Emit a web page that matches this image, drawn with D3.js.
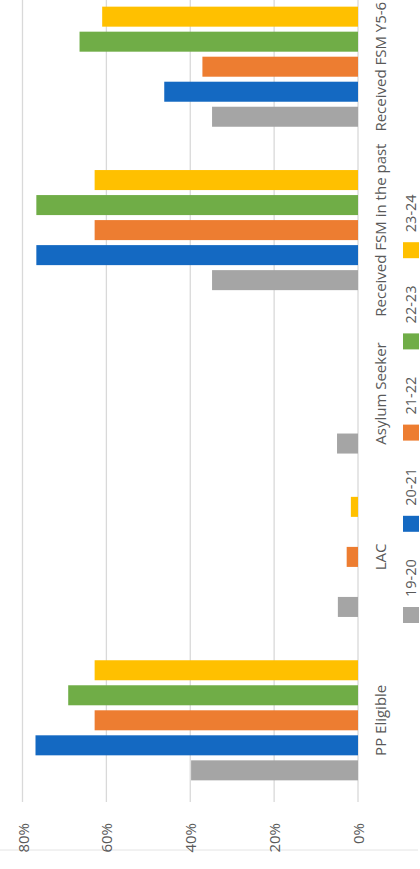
<!DOCTYPE html>
<html>
<head>
    <meta charset="utf-8">
    <title>rotated clustered bars</title>
    <script src="https://cdn.jsdelivr.net/npm/d3@7"></script>
    <style>
        body { margin: 0; background: #fff; }
        text { font-family: "Open Sans", "Noto Sans", sans-serif; fill: #595959; }
    </style>
</head>
<body>
    <svg width="420" height="869" id="mainsvg"></svg>
    <script>
        // data
        const categories = ['PP Eligible', 'LAC', 'Asylum Seeker', 'Received FSM in the past', 'Received FSM Y5-6'];
        const years = ['19-20', '20-21', '21-22', '22-23', '23-24'];
        const colors = ['#a5a5a5', '#1469c2', '#ed7d31', '#70ad47', '#ffc000'];
        const v1920 = [0.398, 0.048, 0.050, 0.348, 0.348];
        const v2021 = [0.769, 0.000, 0.000, 0.767, 0.462];
        const v2122 = [0.628, 0.027, 0.000, 0.628, 0.371];
        const v2223 = [0.691, 0.000, 0.000, 0.767, 0.664];
        const v2324 = [0.628, 0.017, 0.000, 0.628, 0.610];
        const ticks = [0, 0.2, 0.4, 0.6, 0.8];

        const series = [v1920, v2021, v2122, v2223, v2324];

        const svg = d3.select('svg');
        const width = +svg.attr('width');
        const height = +svg.attr('height');

        // the chart is drawn upright and then turned a quarter left
        const g = svg.append('g')
            .attr('transform', `translate(0,${height}) rotate(-90)`);

        const x0 = d3.scaleBand().domain(categories)
            .range([67, 884]).paddingInner(0.265).paddingOuter(0.1325);
        const x1 = d3.scaleBand().domain(years)
            .range([0, x0.bandwidth()]).paddingInner(0.2);
        const y = d3.scaleLinear().domain([0, 0.8]).range([358, 22.5]);

        // chart border (only its lower edge is in frame)
        g.append('line')
            .attr('x1', 19).attr('x2', 19)
            .attr('y1', 0).attr('y2', 418)
            .attr('stroke', '#e4e4e4');

        // gridlines
        g.selectAll('.grid').data(ticks).join('line')
            .attr('class', 'grid')
            .attr('x1', 67).attr('x2', 900)
            .attr('y1', d => y(d)).attr('y2', d => y(d))
            .attr('stroke', '#d9d9d9').attr('stroke-width', 1.3);

        // tick labels
        g.selectAll('.tick').data(ticks).join('text')
            .attr('class', 'tick')
            .attr('x', 46).attr('y', d => y(d))
            .attr('text-anchor', 'end')
            .attr('dominant-baseline', 'central')
            .style('font-size', '15px')
            .text(d3.format('.0%'));

        // bars
        const groups = g.selectAll('.cat').data(categories).join('g')
            .attr('class', 'cat')
            .attr('transform', d => `translate(${x0(d)},0)`);

        groups.selectAll('rect')
            .data((c, ci) => years.map((yr, si) => ({ yr, si, v: series[si][ci] })))
            .join('rect')
            .attr('x', d => x1(d.yr))
            .attr('width', x1.bandwidth())
            .attr('y', d => y(d.v))
            .attr('height', d => y(0) - y(d.v))
            .attr('fill', d => colors[d.si]);

        // category labels
        g.selectAll('.catlab').data(categories).join('text')
            .attr('class', 'catlab')
            .attr('x', d => x0(d) + x0.bandwidth() / 2)
            .attr('y', 380)
            .attr('text-anchor', 'middle')
            .attr('dominant-baseline', 'central')
            .style('font-size', '15px')
            .text(d => d);

        // legend
        const legend = g.selectAll('.leg').data(years).join('g')
            .attr('class', 'leg')
            .attr('transform', (d, i) => `translate(${246 + i * 91.2},403)`);
        legend.append('rect')
            .attr('width', 16).attr('height', 16)
            .attr('fill', (d, i) => colors[i]);
        legend.append('text')
            .attr('x', 26).attr('y', 7)
            .attr('dominant-baseline', 'central')
            .style('font-size', '14.5px')
            .text(d => d);
    </script>
</body>
</html>
